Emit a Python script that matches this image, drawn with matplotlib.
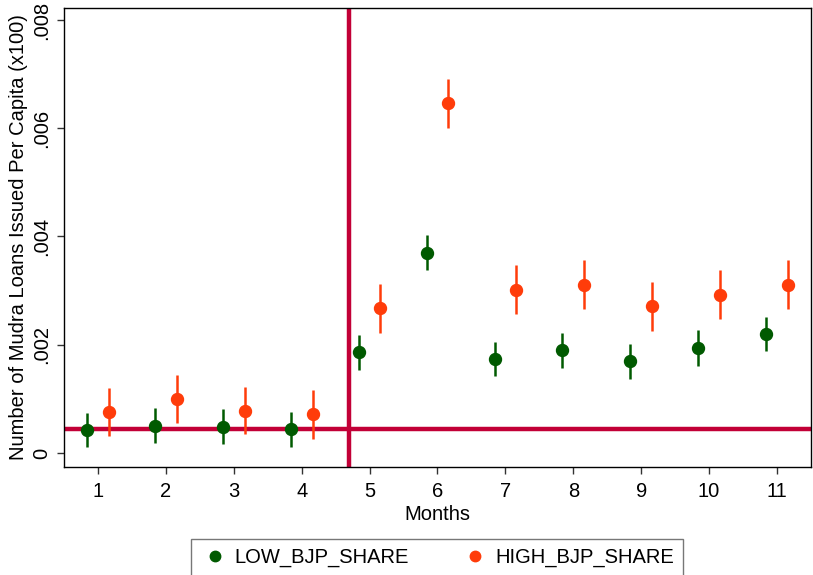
import numpy as np
import matplotlib
matplotlib.use("Agg")
import matplotlib.pyplot as plt
from matplotlib.lines import Line2D
from matplotlib.ticker import FuncFormatter

plt.rcParams['font.family'] = ['Liberation Sans', 'DejaVu Sans']

months = [1, 2, 3, 4, 5, 6, 7, 8, 9, 10, 11]

# point estimates
low_share = [0.000426, 0.000506, 0.000488, 0.000438, 0.001857, 0.003698,
             0.001735, 0.001895, 0.001691, 0.001938, 0.002198]
high_share = [0.000754, 0.000994, 0.000784, 0.000716, 0.002672, 0.006457,
              0.003019, 0.003111, 0.002710, 0.002926, 0.003111]

# half-width of the confidence intervals
low_err = [0.00032, 0.00032, 0.00032, 0.00032, 0.00033, 0.00032,
           0.00032, 0.00032, 0.00032, 0.00033, 0.00032]
high_err = [0.00045, 0.00044, 0.00044, 0.00045, 0.00045, 0.00045,
            0.00045, 0.00045, 0.00045, 0.00045, 0.00045]

baseline = 0.000438
cutoff = 4.7

green = "#005a00"
orange = "#ff3c0a"
cranberry = "#c20037"

fig = plt.figure(figsize=(8.13, 5.75), dpi=100)
ax = fig.add_axes([0.0787, 0.1878, 0.9188, 0.7982])

x = np.array(months)
offset = 0.16

ax.axhline(baseline, color=cranberry, lw=3.2, zorder=1)
ax.axvline(cutoff, color=cranberry, lw=3.2, zorder=1)

ax.errorbar(x - offset, low_share, yerr=low_err, fmt='o', color=green,
            ecolor=green, elinewidth=1.8, capsize=0, markersize=8.6, zorder=3)
ax.errorbar(x + offset, high_share, yerr=high_err, fmt='o', color=orange,
            ecolor=orange, elinewidth=1.8, capsize=0, markersize=8.6, zorder=3)

ax.set_xlim(0.5, 11.5)
ax.set_ylim(-0.00026, 0.00822)
ax.set_xticks(months)
ax.set_yticks([0, 0.002, 0.004, 0.006, 0.008])

def stata_fmt(v, pos):
    if abs(v) < 1e-12:
        return "0"
    return ("%.3f" % v).lstrip("0")

ax.yaxis.set_major_formatter(FuncFormatter(stata_fmt))
ax.tick_params(axis='both', labelsize=14.5, length=5, width=1, color='#333333')
ax.tick_params(axis='x', pad=6)
ax.tick_params(axis='y', pad=4)
for lab in ax.get_yticklabels():
    lab.set_rotation(90)
    lab.set_va('center')

ax.set_xlabel("Months", fontsize=14.5, labelpad=3)
ax.set_ylabel("Number of Mudra Loans Issued Per Capita (x100)", fontsize=14.5, labelpad=3)

for sp in ax.spines.values():
    sp.set_linewidth(1.0)

handles = [
    Line2D([], [], marker='o', ls='none', color=green, markersize=7.5),
    Line2D([], [], marker='o', ls='none', color=orange, markersize=7.5),
]
leg = fig.legend(handles, ["LOW_BJP_SHARE", "HIGH_BJP_SHARE"], loc='upper center',
                 bbox_to_anchor=(0.538, 0.08), ncol=2, fontsize=14.5,
                 frameon=True, fancybox=False, edgecolor='#555555',
                 handletextpad=0.3, columnspacing=2.6, borderpad=0.45,
                 handlelength=1.4)
leg.get_frame().set_linewidth(1.0)

fig.savefig("out.png", dpi=100)
